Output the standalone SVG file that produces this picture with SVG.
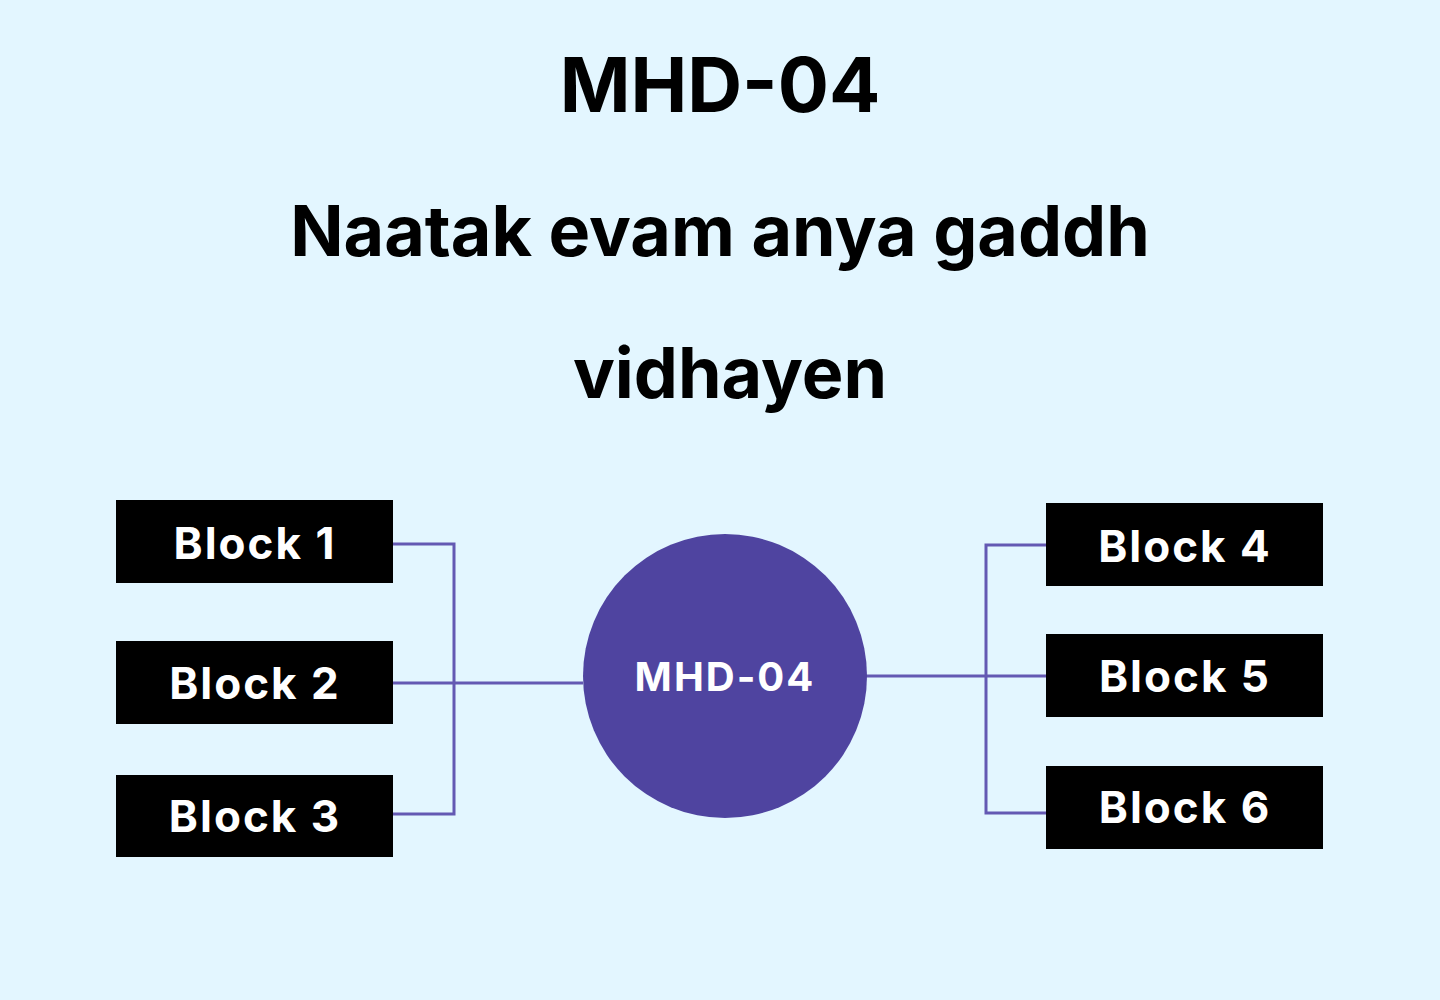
<svg xmlns="http://www.w3.org/2000/svg" width="1440" height="1000" viewBox="0 0 1440 1000">
<style>
.t{font-family:Inter,"Liberation Sans",sans-serif;font-weight:700;fill:#000;text-anchor:middle}
.b{fill:#000}
.bt{font-family:Inter,"Liberation Sans",sans-serif;font-weight:700;fill:#fff;text-anchor:middle;font-size:44px;letter-spacing:2px}
.c{fill:none;stroke:#6459b3;stroke-width:3}
</style>
<rect width="1440" height="1000" fill="#e3f6ff"/>
<text class="t" x="720" y="112" font-size="76">MHD-04</text>
<text class="t" x="720" y="256" font-size="70">Naatak evam anya gaddh</text>
<text class="t" x="730" y="398" font-size="70">vidhayen</text>
<g id="connectors">
<path class="c" d="M393 544H454V814H393M393 683H583"/>
<path class="c" d="M866 676H1046M1046 545H986V813H1046"/>
</g>
<g id="center"><circle cx="725" cy="676" r="142" fill="#4f44a0"/><text class="bt" x="725" y="691" font-size="40" style="font-size:40px">MHD-04</text></g>
<g id="block1"><rect class="b" x="116" y="500" width="277" height="83"/><text class="bt" x="255" y="559">Block 1</text></g>
<g id="block2"><rect class="b" x="116" y="641" width="277" height="83"/><text class="bt" x="255" y="699">Block 2</text></g>
<g id="block3"><rect class="b" x="116" y="775" width="277" height="82"/><text class="bt" x="255" y="832">Block 3</text></g>
<g id="block4"><rect class="b" x="1046" y="503" width="277" height="83"/><text class="bt" x="1185" y="562">Block 4</text></g>
<g id="block5"><rect class="b" x="1046" y="634" width="277" height="83"/><text class="bt" x="1185" y="692">Block 5</text></g>
<g id="block6"><rect class="b" x="1046" y="766" width="277" height="83"/><text class="bt" x="1185" y="823">Block 6</text></g>
</svg>
